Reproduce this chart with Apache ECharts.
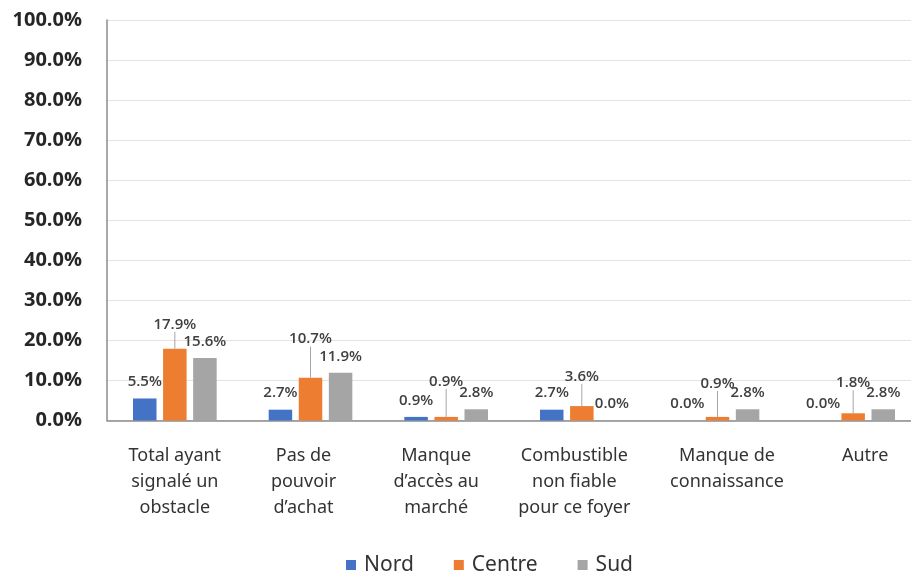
<!DOCTYPE html>
<html>
<head>
<meta charset="utf-8">
<script src="https://cdn.jsdelivr.net/npm/echarts@6/dist/echarts.min.js"></script>
<style>html,body{margin:0;padding:0;background:#fff}#c{width:911px;height:576px}</style>
</head>
<body>
<div id="c"></div>
<script>
var categories = [
  "Total ayant\nsignalé un\nobstacle",
  "Pas de\npouvoir\nd’achat",
  "Manque\nd’accès au\nmarché",
  "Combustible\nnon fiable\npour ce foyer",
  "Manque de\nconnaissance",
  "Autre"
];
var seriesNames = ["Nord", "Centre", "Sud"];
var nord = [5.5, 2.7, 0.9, 2.7, 0.0, 0.0];
var centre = [17.9, 10.7, 0.9, 3.6, 0.9, 1.8];
var sud = [15.6, 11.9, 2.8, 0.0, 2.8, 2.8];
var yTicks = [0, 10, 20, 30, 40, 50, 60, 70, 80, 90, 100];

// label styling (offsets of the Centre labels, moved up with a leader line)
var centreLabelDy = [-8, -22, -19, -13, -17, -14];
var catLabelShift = [0, -14, -20, -15, 19, 24];

var colors = ["#4472C4", "#ED7D31", "#A5A5A5"];
var labelFont = { fontFamily: "Open Sans", fontSize: 15, fontWeight: 600, color: "#404040" };

function mkSeries(name, data, idx) {
  var s = {
    name: name,
    type: "bar",
    data: data,
    barWidth: 23.5,
    barGap: "28%",
    itemStyle: { color: colors[idx] },
    label: Object.assign({
      show: true,
      position: "top",
      distance: 9,
      formatter: function (p) { return p.value.toFixed(1) + "%"; }
    }, labelFont)
  };
  if (idx === 1) {
    s.labelLayout = function (p) { return { dy: centreLabelDy[p.dataIndex] }; };
    s.labelLine = { show: true, lineStyle: { color: "#A6A6A6", width: 1 } };
  }
  return s;
}

var rich = {};
catLabelShift.forEach(function (s, i) {
  rich["c" + i] = {
    fontFamily: "Noto Sans", fontSize: 18, color: "#333333", lineHeight: 26,
    padding: s >= 0 ? [0, 0, 0, s] : [0, -s, 0, 0]
  };
});

var chart = echarts.init(document.getElementById("c"), null, { renderer: "canvas" });
chart.setOption({
  animation: false,
  grid: { left: 107, top: 20, width: 814, height: 400.5, containLabel: false, outerBoundsMode: "none" },
  legend: {
    data: seriesNames,
    left: 341, top: 548,
    icon: "rect", itemWidth: 10, itemHeight: 10, itemGap: 40,
    textStyle: { fontFamily: "Noto Sans", fontSize: 21, color: "#333333", lineHeight: 24, padding: [0, 0, 0, 3] }
  },
  xAxis: {
    type: "category",
    data: categories,
    axisLine: { show: true, lineStyle: { color: "#8C8C8C", width: 1.5 } },
    axisTick: { show: false },
    axisLabel: {
      interval: 0, margin: 22,
      formatter: function (v, i) {
        return v.split("\n").map(function (l) { return "{c" + i + "|" + l + "}"; }).join("\n");
      },
      rich: rich
    }
  },
  yAxis: {
    type: "value",
    min: yTicks[0], max: yTicks[yTicks.length - 1], interval: 10,
    axisLine: { show: true, lineStyle: { color: "#8C8C8C", width: 1.5 } },
    axisTick: { show: false },
    splitLine: { lineStyle: { color: "#E3E3E3", width: 1 } },
    axisLabel: {
      margin: 25,
      fontFamily: "Open Sans", fontSize: 20, fontWeight: "bold", color: "#262626",
      formatter: function (v) { return v.toFixed(1) + "%"; }
    }
  },
  series: [mkSeries("Nord", nord, 0), mkSeries("Centre", centre, 1), mkSeries("Sud", sud, 2)]
});
</script>
</body>
</html>
